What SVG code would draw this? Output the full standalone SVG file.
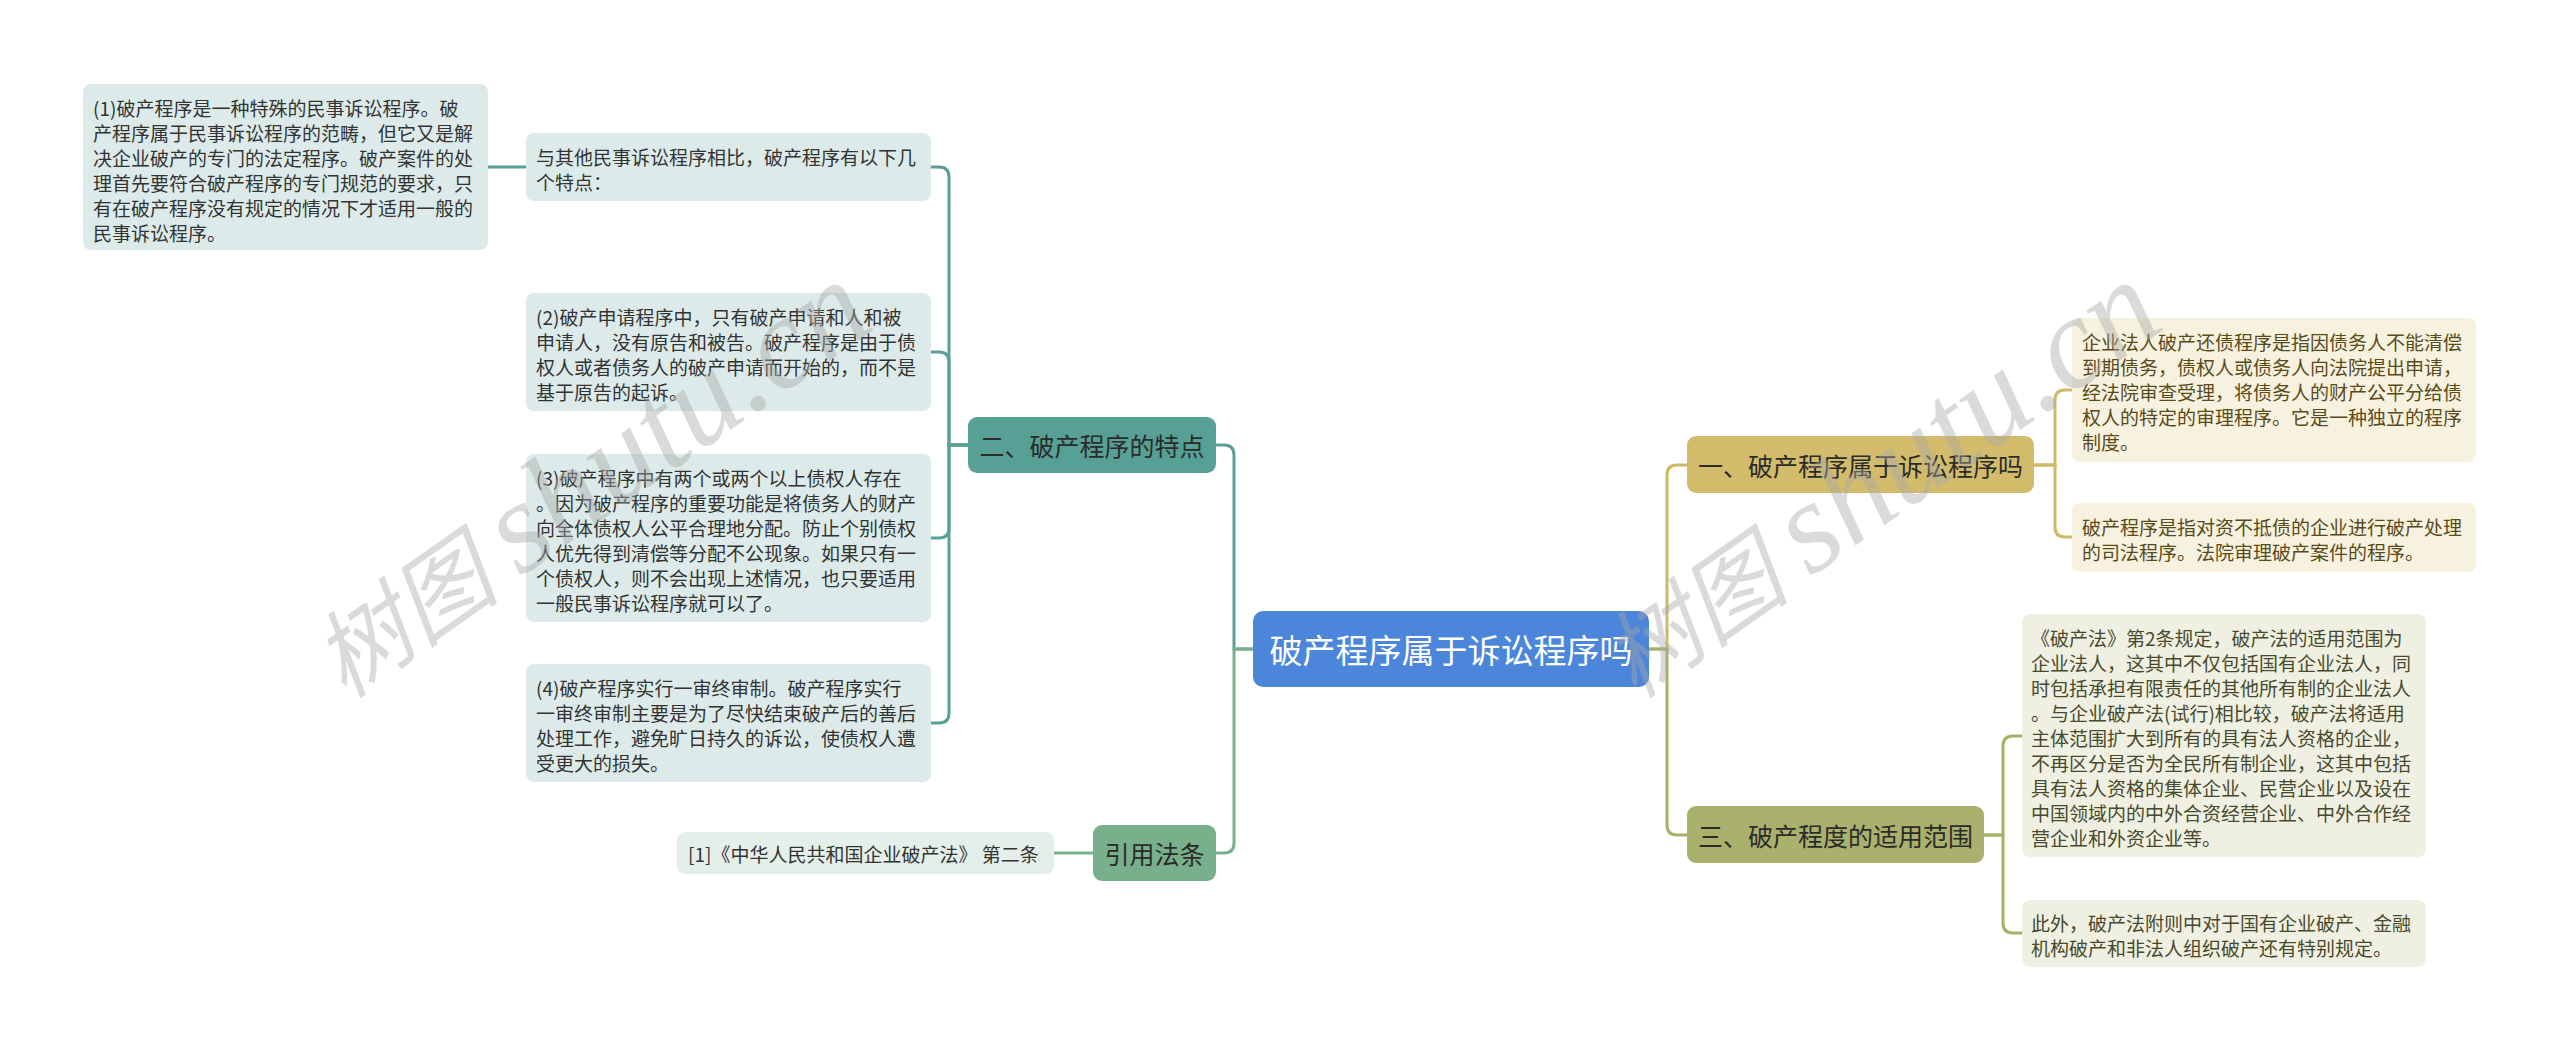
<svg xmlns="http://www.w3.org/2000/svg" width="2560" height="1051" viewBox="0 0 2560 1051">
<style>
text{font-family:"Noto Sans CJK SC","Noto Sans",sans-serif}
.leaf{font-size:19px;dominant-baseline:central}
.lt{fill:#333333}
.rt1{fill:#5a4a18}
.rt3{fill:#474a2c}
.br{font-size:25px;text-anchor:middle;dominant-baseline:central;fill:#2b2b2b}
.conn path{fill:none;stroke-width:3}
.teal{stroke:#5a9f95}
.green{stroke:#79b08c}
.gold{stroke:#cfb866}
.olive{stroke:#a8b068}
.wm{font-family:"Liberation Serif","Noto Sans CJK SC",serif;font-style:italic;font-size:95px;fill:#a8a8a8;opacity:0.42}
.wm tspan{font-size:130px}
</style>
<rect width="2560" height="1051" fill="#ffffff"/>
<g class="conn" id="connectors">
<path class="teal" d="M526 167 H488"/>
<path class="teal" d="M968 445 H949 V177 Q949 167 939 167 H931"/>
<path class="teal" d="M968 445 H949 V362 Q949 352 939 352 H931"/>
<path class="teal" d="M968 445 H949 V528 Q949 538 939 538 H931"/>
<path class="teal" d="M968 445 H949 V713 Q949 723 939 723 H931"/>
<path class="teal" d="M1253 649 H1234 V455 Q1234 445 1224 445 H1216"/>
<path class="green" d="M1253 649 H1234 V843 Q1234 853 1224 853 H1216"/>
<path class="green" d="M1093 853 H1054"/>
<path class="gold" d="M1649 649 H1667 V475 Q1667 465 1677 465 H1687"/>
<path class="olive" d="M1649 649 H1667 V825 Q1667 835 1677 835 H1687"/>
<path class="gold" d="M2034 465 H2055 V400 Q2055 390 2065 390 H2072"/>
<path class="gold" d="M2034 465 H2055 V527 Q2055 537 2065 537 H2072"/>
<path class="olive" d="M1984 835 H2003 V746 Q2003 736 2013 736 H2022"/>
<path class="olive" d="M1984 835 H2003 V923 Q2003 933 2013 933 H2022"/>
</g>
<g id="center">
<rect x="1253" y="611" width="396" height="76" rx="10" fill="#4c86da"/>
<text x="1451" y="649" font-size="33" text-anchor="middle" dominant-baseline="central" fill="#ffffff">破产程序属于诉讼程序吗</text>
</g>
<g id="branch2">
<rect x="968" y="417" width="248" height="56" rx="9" fill="#56a096"/>
<text class="br" x="1092" y="445">二、破产程序的特点</text>
</g>
<g id="branchcite">
<rect x="1093" y="825" width="123" height="56" rx="9" fill="#77b08a"/>
<text class="br" x="1154.5" y="853" font-size="24">引用法条</text>
</g>
<g id="branch1">
<rect x="1687" y="436" width="347" height="57" rx="9" fill="#d2bc6c"/>
<text class="br" x="1860.5" y="465">一、破产程序属于诉讼程序吗</text>
</g>
<g id="branch3">
<rect x="1687" y="806" width="297" height="57" rx="9" fill="#a9b16d"/>
<text class="br" x="1835.5" y="835">三、破产程度的适用范围</text>
</g>
<g id="leaf-intro">
<rect x="526" y="133" width="405" height="68" rx="8" fill="#dcebe9"/>
<text class="leaf lt" x="536"><tspan x="536" y="156">与其他民事诉讼程序相比，破产程序有以下几</tspan><tspan x="536" y="181">个特点：</tspan></text>
</g>
<g id="leaf-1">
<rect x="83" y="84" width="405" height="166" rx="8" fill="#dcebe9"/>
<text class="leaf lt"><tspan x="93" y="107">(1)破产程序是一种特殊的民事诉讼程序。破</tspan><tspan x="93" y="132">产程序属于民事诉讼程序的范畴，但它又是解</tspan><tspan x="93" y="157">决企业破产的专门的法定程序。破产案件的处</tspan><tspan x="93" y="182">理首先要符合破产程序的专门规范的要求，只</tspan><tspan x="93" y="207">有在破产程序没有规定的情况下才适用一般的</tspan><tspan x="93" y="232">民事诉讼程序。</tspan></text>
</g>
<g id="leaf-2">
<rect x="526" y="293" width="405" height="118" rx="8" fill="#dcebe9"/>
<text class="leaf lt"><tspan x="536" y="316">(2)破产申请程序中，只有破产申请和人和被</tspan><tspan x="536" y="341">申请人，没有原告和被告。破产程序是由于债</tspan><tspan x="536" y="366">权人或者债务人的破产申请而开始的，而不是</tspan><tspan x="536" y="391">基于原告的起诉。</tspan></text>
</g>
<g id="leaf-3">
<rect x="526" y="454" width="405" height="168" rx="8" fill="#dcebe9"/>
<text class="leaf lt"><tspan x="536" y="477">(3)破产程序中有两个或两个以上债权人存在</tspan><tspan x="536" y="502">。因为破产程序的重要功能是将债务人的财产</tspan><tspan x="536" y="527">向全体债权人公平合理地分配。防止个别债权</tspan><tspan x="536" y="552">人优先得到清偿等分配不公现象。如果只有一</tspan><tspan x="536" y="577">个债权人，则不会出现上述情况，也只要适用</tspan><tspan x="536" y="602">一般民事诉讼程序就可以了。</tspan></text>
</g>
<g id="leaf-4">
<rect x="526" y="664" width="405" height="118" rx="8" fill="#dcebe9"/>
<text class="leaf lt"><tspan x="536" y="687">(4)破产程序实行一审终审制。破产程序实行</tspan><tspan x="536" y="712">一审终审制主要是为了尽快结束破产后的善后</tspan><tspan x="536" y="737">处理工作，避免旷日持久的诉讼，使债权人遭</tspan><tspan x="536" y="762">受更大的损失。</tspan></text>
</g>
<g id="leaf-cite">
<rect x="677" y="832" width="377" height="42" rx="8" fill="#e3efe8"/>
<text class="leaf lt" x="688" y="853">[1]《中华人民共和国企业破产法》 第二条</text>
</g>
<g id="leaf-r1">
<rect x="2072" y="318" width="404" height="144" rx="8" fill="#f6f2df"/>
<text class="leaf rt1"><tspan x="2082" y="341">企业法人破产还债程序是指因债务人不能清偿</tspan><tspan x="2082" y="366">到期债务，债权人或债务人向法院提出申请，</tspan><tspan x="2082" y="391">经法院审查受理，将债务人的财产公平分给债</tspan><tspan x="2082" y="416">权人的特定的审理程序。它是一种独立的程序</tspan><tspan x="2082" y="441">制度。</tspan></text>
</g>
<g id="leaf-r2">
<rect x="2072" y="503" width="404" height="69" rx="8" fill="#f6f2df"/>
<text class="leaf rt1"><tspan x="2082" y="526">破产程序是指对资不抵债的企业进行破产处理</tspan><tspan x="2082" y="551">的司法程序。法院审理破产案件的程序。</tspan></text>
</g>
<g id="leaf-r3">
<rect x="2022" y="614" width="404" height="243" rx="8" fill="#eff0e2"/>
<text class="leaf rt3"><tspan x="2031" y="637">《破产法》第2条规定，破产法的适用范围为</tspan><tspan x="2031" y="662">企业法人，这其中不仅包括国有企业法人，同</tspan><tspan x="2031" y="687">时包括承担有限责任的其他所有制的企业法人</tspan><tspan x="2031" y="712">。与企业破产法(试行)相比较，破产法将适用</tspan><tspan x="2031" y="737">主体范围扩大到所有的具有法人资格的企业，</tspan><tspan x="2031" y="762">不再区分是否为全民所有制企业，这其中包括</tspan><tspan x="2031" y="787">具有法人资格的集体企业、民营企业以及设在</tspan><tspan x="2031" y="812">中国领域内的中外合资经营企业、中外合作经</tspan><tspan x="2031" y="837">营企业和外资企业等。</tspan></text>
</g>
<g id="leaf-r4">
<rect x="2022" y="900" width="404" height="67" rx="8" fill="#eff0e2"/>
<text class="leaf rt3"><tspan x="2031" y="922">此外，破产法附则中对于国有企业破产、金融</tspan><tspan x="2031" y="947">机构破产和非法人组织破产还有特别规定。</tspan></text>
</g>
<g id="watermark">
<text class="wm" transform="translate(345,700) rotate(-35)">树图 <tspan>shutu.cn</tspan></text>
<text class="wm" transform="translate(1635,700) rotate(-35)">树图 <tspan>shutu.cn</tspan></text>
</g>
</svg>
